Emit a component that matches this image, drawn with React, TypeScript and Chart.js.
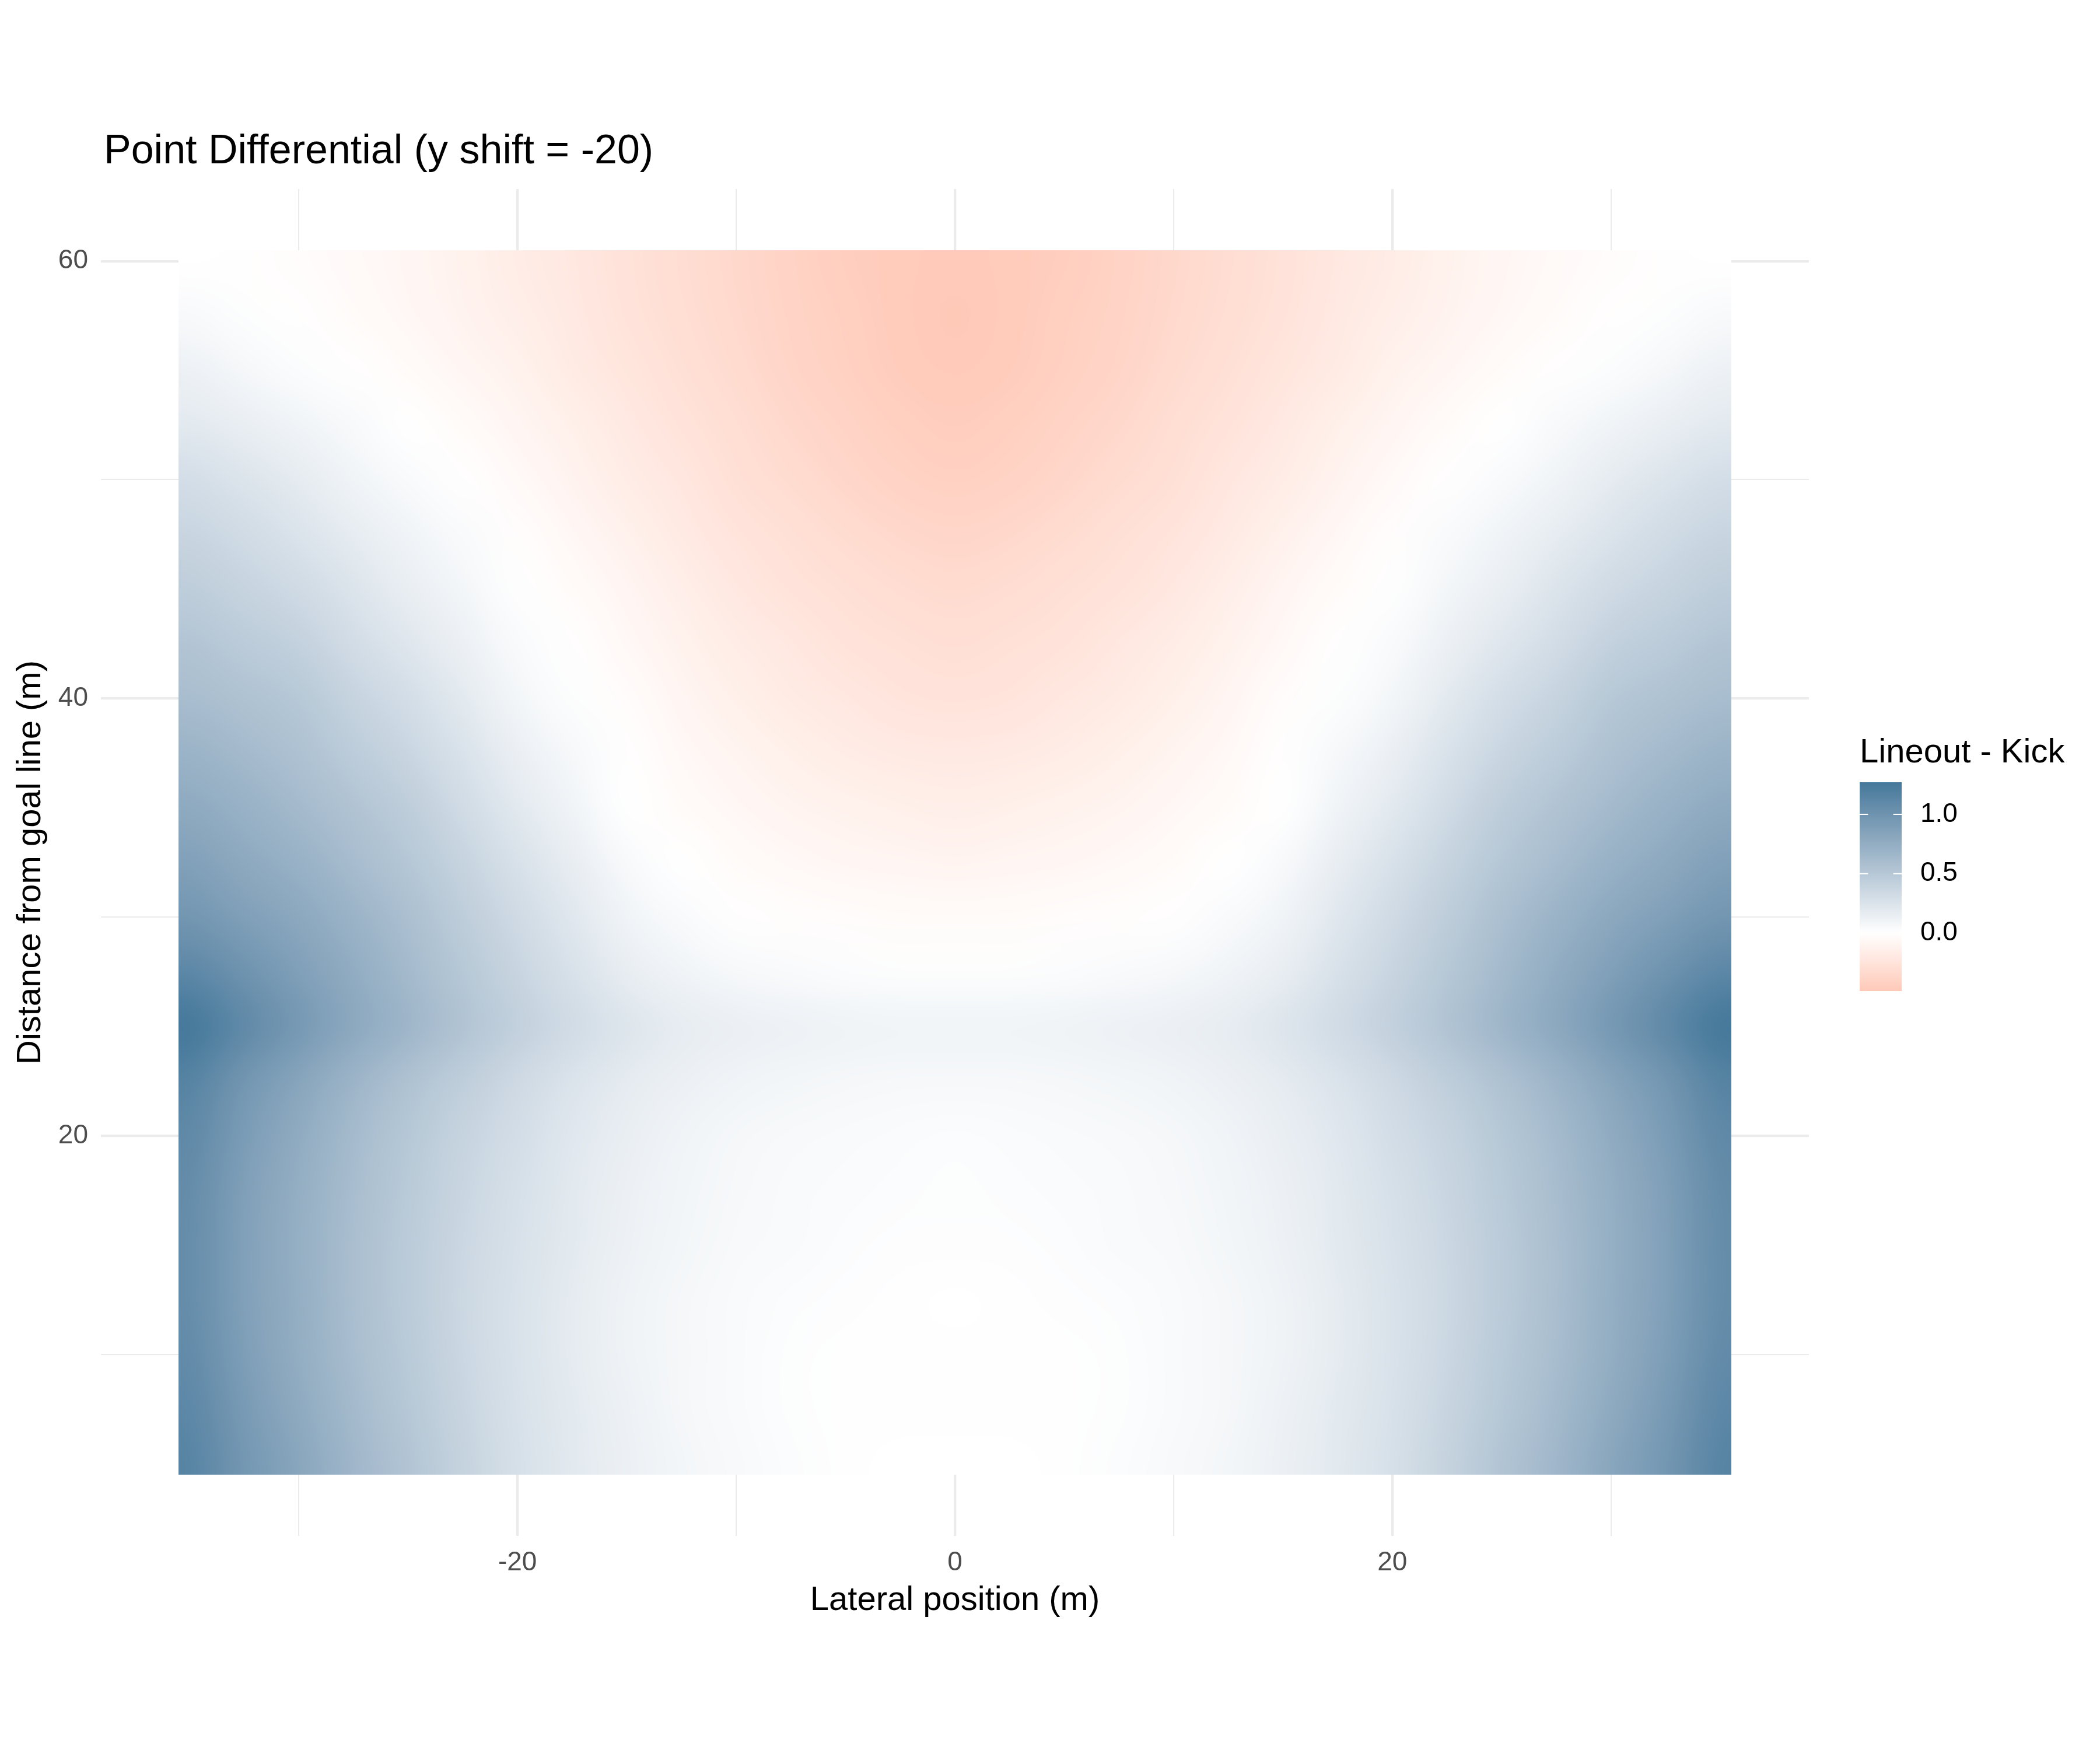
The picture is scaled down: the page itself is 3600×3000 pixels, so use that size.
import React, { useEffect, useRef } from "react";
import { Chart, registerables } from "chart.js";

Chart.register(...registerables);

// ---------------- data ----------------
const TITLE = "Point Differential (y shift = -20)";
const X_LABEL = "Lateral position (m)";
const Y_LABEL = "Distance from goal line (m)";
const LEGEND_TITLE = "Lineout - Kick";

// grid positions (m) at which the difference was read
const X_POSITIONS = [
  -35, -32.5, -30, -27.5, -25, -22.5, -20, -17.5, -15, -12.5, -10, -7.5, -5, -2.5, 0,
  2.5, 5, 7.5, 10, 12.5, 15, 17.5, 20, 22.5, 25, 27.5, 30, 32.5, 35,
];
const Y_POSITIONS = [
  60, 57.5, 55, 52.5, 50, 47.5, 45, 42.5, 40, 37.5, 35, 32.5, 30, 27.5, 25, 22.5, 20,
  17.5, 15, 12.5, 10, 7.5, 5,
];
// raster extent (data units)
const RASTER_X_LIMITS = [-35.5, 35.5];
const RASTER_Y_LIMITS = [4.5, 60.5];
// axis ranges (data units)
const X_AXIS_RANGE = [-39.05, 39.05];
const Y_AXIS_RANGE = [1.7, 63.3];
const LEGEND_BREAKS = [0, 0.5, 1.0];

// Lineout - Kick value, one row per Y_POSITIONS entry, one column per X_POSITIONS entry
const VALUES: number[][] = [
  [0.0, -0.01, -0.03, -0.05, -0.08, -0.12, -0.17, -0.21, -0.26, -0.31, -0.35, -0.40, -0.44, -0.47, -0.48, -0.47, -0.44, -0.40, -0.35, -0.31, -0.26, -0.21, -0.17, -0.12, -0.08, -0.05, -0.03, -0.01, 0.0],
  [0.05, 0.02, -0.01, -0.04, -0.07, -0.11, -0.15, -0.20, -0.25, -0.30, -0.34, -0.39, -0.43, -0.47, -0.49, -0.47, -0.43, -0.39, -0.34, -0.30, -0.25, -0.20, -0.15, -0.11, -0.07, -0.04, -0.01, 0.02, 0.05],
  [0.12, 0.07, 0.03, -0.01, -0.04, -0.08, -0.12, -0.18, -0.23, -0.28, -0.33, -0.38, -0.42, -0.46, -0.48, -0.46, -0.42, -0.38, -0.33, -0.28, -0.23, -0.18, -0.12, -0.08, -0.04, -0.01, 0.03, 0.07, 0.12],
  [0.20, 0.15, 0.10, 0.05, 0.00, -0.04, -0.09, -0.14, -0.20, -0.25, -0.30, -0.35, -0.39, -0.43, -0.45, -0.43, -0.39, -0.35, -0.30, -0.25, -0.20, -0.14, -0.09, -0.04, 0.00, 0.05, 0.10, 0.15, 0.20],
  [0.30, 0.24, 0.18, 0.10, 0.04, -0.01, -0.05, -0.11, -0.17, -0.22, -0.28, -0.32, -0.36, -0.40, -0.42, -0.40, -0.36, -0.32, -0.28, -0.22, -0.17, -0.11, -0.05, -0.01, 0.04, 0.10, 0.18, 0.24, 0.30],
  [0.38, 0.32, 0.25, 0.17, 0.10, 0.04, -0.02, -0.07, -0.13, -0.19, -0.24, -0.28, -0.32, -0.35, -0.37, -0.35, -0.32, -0.28, -0.24, -0.19, -0.13, -0.07, -0.02, 0.04, 0.10, 0.17, 0.25, 0.32, 0.38],
  [0.45, 0.39, 0.33, 0.24, 0.15, 0.08, 0.01, -0.04, -0.09, -0.15, -0.21, -0.25, -0.28, -0.31, -0.33, -0.31, -0.28, -0.25, -0.21, -0.15, -0.09, -0.04, 0.01, 0.08, 0.15, 0.24, 0.33, 0.39, 0.45],
  [0.53, 0.47, 0.41, 0.31, 0.22, 0.13, 0.04, -0.01, -0.06, -0.12, -0.17, -0.21, -0.25, -0.27, -0.29, -0.27, -0.25, -0.21, -0.17, -0.12, -0.06, -0.01, 0.04, 0.13, 0.22, 0.31, 0.41, 0.47, 0.53],
  [0.60, 0.55, 0.50, 0.39, 0.30, 0.19, 0.08, 0.02, -0.03, -0.09, -0.14, -0.18, -0.21, -0.24, -0.25, -0.24, -0.21, -0.18, -0.14, -0.09, -0.03, 0.02, 0.08, 0.19, 0.30, 0.39, 0.50, 0.55, 0.60],
  [0.69, 0.63, 0.56, 0.46, 0.37, 0.26, 0.14, 0.06, -0.01, -0.06, -0.10, -0.14, -0.17, -0.19, -0.20, -0.19, -0.17, -0.14, -0.10, -0.06, -0.01, 0.06, 0.14, 0.26, 0.37, 0.46, 0.56, 0.63, 0.69],
  [0.78, 0.71, 0.63, 0.54, 0.45, 0.32, 0.20, 0.10, 0.00, -0.04, -0.07, -0.10, -0.12, -0.14, -0.15, -0.14, -0.12, -0.10, -0.07, -0.04, 0.00, 0.10, 0.20, 0.32, 0.45, 0.54, 0.63, 0.71, 0.78],
  [0.87, 0.79, 0.71, 0.61, 0.51, 0.39, 0.27, 0.16, 0.05, 0.00, -0.04, -0.06, -0.08, -0.09, -0.10, -0.09, -0.08, -0.06, -0.04, 0.00, 0.05, 0.16, 0.27, 0.39, 0.51, 0.61, 0.71, 0.79, 0.87],
  [0.97, 0.88, 0.80, 0.69, 0.58, 0.45, 0.33, 0.21, 0.10, 0.04, -0.01, -0.02, -0.03, -0.04, -0.04, -0.04, -0.03, -0.02, -0.01, 0.04, 0.10, 0.21, 0.33, 0.45, 0.58, 0.69, 0.80, 0.88, 0.97],
  [1.12, 1.00, 0.88, 0.76, 0.63, 0.50, 0.38, 0.27, 0.16, 0.10, 0.06, 0.04, 0.03, 0.02, 0.02, 0.02, 0.03, 0.04, 0.06, 0.10, 0.16, 0.27, 0.38, 0.50, 0.63, 0.76, 0.88, 1.00, 1.12],
  [1.27, 1.10, 0.95, 0.80, 0.67, 0.54, 0.42, 0.32, 0.23, 0.17, 0.14, 0.12, 0.11, 0.10, 0.10, 0.10, 0.11, 0.12, 0.14, 0.17, 0.23, 0.32, 0.42, 0.54, 0.67, 0.80, 0.95, 1.10, 1.27],
  [1.16, 0.97, 0.83, 0.68, 0.55, 0.44, 0.34, 0.25, 0.18, 0.13, 0.10, 0.08, 0.07, 0.06, 0.06, 0.06, 0.07, 0.08, 0.10, 0.13, 0.18, 0.25, 0.34, 0.44, 0.55, 0.68, 0.83, 0.97, 1.16],
  [1.10, 0.91, 0.77, 0.62, 0.50, 0.39, 0.30, 0.21, 0.15, 0.10, 0.07, 0.055, 0.045, 0.035, 0.03, 0.035, 0.045, 0.055, 0.07, 0.10, 0.15, 0.21, 0.30, 0.39, 0.50, 0.62, 0.77, 0.91, 1.10],
  [1.07, 0.88, 0.74, 0.60, 0.48, 0.37, 0.28, 0.20, 0.13, 0.09, 0.06, 0.045, 0.035, 0.025, 0.02, 0.025, 0.035, 0.045, 0.06, 0.09, 0.13, 0.20, 0.28, 0.37, 0.48, 0.60, 0.74, 0.88, 1.07],
  [1.06, 0.87, 0.73, 0.59, 0.47, 0.36, 0.27, 0.19, 0.12, 0.08, 0.055, 0.04, 0.025, 0.015, 0.015, 0.015, 0.025, 0.04, 0.055, 0.08, 0.12, 0.19, 0.27, 0.36, 0.47, 0.59, 0.73, 0.87, 1.06],
  [1.06, 0.87, 0.74, 0.59, 0.47, 0.35, 0.26, 0.18, 0.11, 0.07, 0.045, 0.03, 0.015, 0.005, 0.0, 0.005, 0.015, 0.03, 0.045, 0.07, 0.11, 0.18, 0.26, 0.35, 0.47, 0.59, 0.74, 0.87, 1.06],
  [1.08, 0.89, 0.75, 0.60, 0.48, 0.36, 0.26, 0.18, 0.11, 0.07, 0.04, 0.02, 0.005, -0.005, -0.005, -0.005, 0.005, 0.02, 0.04, 0.07, 0.11, 0.18, 0.26, 0.36, 0.48, 0.60, 0.75, 0.89, 1.08],
  [1.12, 0.93, 0.78, 0.63, 0.50, 0.38, 0.27, 0.19, 0.12, 0.07, 0.04, 0.02, 0.005, -0.005, -0.005, -0.005, 0.005, 0.02, 0.04, 0.07, 0.12, 0.19, 0.27, 0.38, 0.50, 0.63, 0.78, 0.93, 1.12],
  [1.15, 0.96, 0.82, 0.66, 0.53, 0.40, 0.28, 0.20, 0.13, 0.08, 0.05, 0.025, 0.008, 0.0, 0.0, 0.0, 0.008, 0.025, 0.05, 0.08, 0.13, 0.20, 0.28, 0.40, 0.53, 0.66, 0.82, 0.96, 1.15],
];

// ---------------- styles ----------------
const FONT = '"Liberation Sans", Arial, Helvetica, sans-serif';
const HIGH_COLOR = "#44789A";
const MID_COLOR = "#FFFFFF";
const LOW_COLOR = "#FFC9B8";
const GRID_COLOR = "#EBEBEB";
const TICK_COLOR = "#4D4D4D";

// ---------------- colour helpers (CIELAB interpolation) ----------------
function hexToRgb(h: string): number[] {
  return [parseInt(h.slice(1, 3), 16), parseInt(h.slice(3, 5), 16), parseInt(h.slice(5, 7), 16)];
}
function toLin(c: number) {
  c /= 255;
  return c <= 0.04045 ? c / 12.92 : Math.pow((c + 0.055) / 1.055, 2.4);
}
function fromLin(c: number) {
  const v = c <= 0.0031308 ? 12.92 * c : 1.055 * Math.pow(c, 1 / 2.4) - 0.055;
  return Math.round(Math.max(0, Math.min(1, v)) * 255);
}
const XN = 0.95047, YN = 1.0, ZN = 1.08883;
function fLab(t: number) {
  return t > 0.008856 ? Math.cbrt(t) : 7.787 * t + 16 / 116;
}
function fInv(t: number) {
  return t > 0.206893 ? t * t * t : (t - 16 / 116) / 7.787;
}
function rgbToLab(rgb: number[]): number[] {
  const R = toLin(rgb[0]), G = toLin(rgb[1]), B = toLin(rgb[2]);
  const X = 0.4124 * R + 0.3576 * G + 0.1805 * B;
  const Y = 0.2126 * R + 0.7152 * G + 0.0722 * B;
  const Z = 0.0193 * R + 0.1192 * G + 0.9505 * B;
  const fx = fLab(X / XN), fy = fLab(Y / YN), fz = fLab(Z / ZN);
  return [116 * fy - 16, 500 * (fx - fy), 200 * (fy - fz)];
}
function labToRgb(lab: number[]): number[] {
  const fy = (lab[0] + 16) / 116;
  const fx = fy + lab[1] / 500;
  const fz = fy - lab[2] / 200;
  const X = XN * fInv(fx), Y = YN * fInv(fy), Z = ZN * fInv(fz);
  const R = 3.2406 * X - 1.5372 * Y - 0.4986 * Z;
  const G = -0.9689 * X + 1.8758 * Y + 0.0415 * Z;
  const B = 0.0557 * X - 0.204 * Y + 1.057 * Z;
  return [fromLin(R), fromLin(G), fromLin(B)];
}
const LAB_HIGH = rgbToLab(hexToRgb(HIGH_COLOR));
const LAB_MID = rgbToLab(hexToRgb(MID_COLOR));
const LAB_LOW = rgbToLab(hexToRgb(LOW_COLOR));

const ALL_VALUES = VALUES.reduce((a, r) => a.concat(r), [] as number[]);
const V_MIN = Math.min(...ALL_VALUES);
const V_MAX = Math.max(...ALL_VALUES);

function fillColor(v: number): number[] {
  let target = LAB_HIGH;
  let t = 0;
  if (v >= 0) {
    t = Math.min(1, v / V_MAX);
    target = LAB_HIGH;
  } else {
    t = Math.min(1, v / V_MIN);
    target = LAB_LOW;
  }
  return labToRgb([
    LAB_MID[0] + (target[0] - LAB_MID[0]) * t,
    LAB_MID[1] + (target[1] - LAB_MID[1]) * t,
    LAB_MID[2] + (target[2] - LAB_MID[2]) * t,
  ]);
}
const css = (c: number[]) => `rgb(${c[0]},${c[1]},${c[2]})`;

// ---------------- plugins ----------------
const heatmapPlugin = {
  id: "heatmap",
  beforeDatasetsDraw(chart: any) {
    const { ctx, scales } = chart;
    const xs = scales.x, ys = scales.y;
    const cols = X_POSITIONS.length, rows = Y_POSITIONS.length;
    const off = document.createElement("canvas");
    off.width = cols + 2;
    off.height = rows + 2;
    const octx = off.getContext("2d")!;
    const img = octx.createImageData(cols + 2, rows + 2);
    for (let r = 0; r < rows + 2; r++) {
      const rr = Math.min(rows - 1, Math.max(0, r - 1));
      for (let c = 0; c < cols + 2; c++) {
        const cc = Math.min(cols - 1, Math.max(0, c - 1));
        const col = fillColor(VALUES[rr][cc]);
        const i = (r * (cols + 2) + c) * 4;
        img.data[i] = col[0];
        img.data[i + 1] = col[1];
        img.data[i + 2] = col[2];
        img.data[i + 3] = 255;
      }
    }
    octx.putImageData(img, 0, 0);
    const dx = X_POSITIONS[1] - X_POSITIONS[0];
    const dy = Y_POSITIONS[0] - Y_POSITIONS[1];
    const left = xs.getPixelForValue(X_POSITIONS[0] - 1.5 * dx);
    const right = xs.getPixelForValue(X_POSITIONS[cols - 1] + 1.5 * dx);
    const top = ys.getPixelForValue(Y_POSITIONS[0] + 1.5 * dy);
    const bottom = ys.getPixelForValue(Y_POSITIONS[rows - 1] - 1.5 * dy);
    const cl = xs.getPixelForValue(RASTER_X_LIMITS[0]);
    const cr = xs.getPixelForValue(RASTER_X_LIMITS[1]);
    const ct = ys.getPixelForValue(RASTER_Y_LIMITS[1]);
    const cb = ys.getPixelForValue(RASTER_Y_LIMITS[0]);
    ctx.save();
    ctx.beginPath();
    ctx.rect(cl, ct, cr - cl, cb - ct);
    ctx.clip();
    ctx.imageSmoothingEnabled = true;
    (ctx as any).imageSmoothingQuality = "high";
    ctx.drawImage(off, left, top, right - left, bottom - top);
    ctx.restore();
  },
};

const decorPlugin = {
  id: "decor",
  afterDraw(chart: any) {
    const { ctx, chartArea } = chart;
    ctx.save();
    // title
    ctx.fillStyle = "#000000";
    ctx.font = `70px ${FONT}`;
    ctx.textAlign = "left";
    ctx.textBaseline = "alphabetic";
    ctx.fillText(TITLE, chartArea.left + 5, chartArea.top - 44);

    // colourbar legend
    const barLeft = chartArea.right + 87;
    const barW = 72;
    const barH = 358;
    const barTop = (chartArea.top + chartArea.bottom) / 2 - 137.5;
    const barBottom = barTop + barH;
    ctx.font = `58px ${FONT}`;
    ctx.fillText(LEGEND_TITLE, barLeft, barTop - 34);

    const grad = ctx.createLinearGradient(0, barTop, 0, barBottom);
    const N = 80;
    for (let i = 0; i <= N; i++) {
      const t = i / N;
      const v = V_MAX - t * (V_MAX - V_MIN);
      grad.addColorStop(t, css(fillColor(v)));
    }
    ctx.fillStyle = grad;
    ctx.fillRect(barLeft, barTop, barW, barH);

    const yFor = (v: number) => barBottom - ((v - V_MIN) / (V_MAX - V_MIN)) * barH;
    ctx.strokeStyle = "#FFFFFF";
    ctx.lineWidth = 2;
    ctx.font = `46px ${FONT}`;
    ctx.textBaseline = "middle";
    LEGEND_BREAKS.forEach((b) => {
      const yy = yFor(b);
      ctx.beginPath();
      ctx.moveTo(barLeft, yy);
      ctx.lineTo(barLeft + barW * 0.2, yy);
      ctx.moveTo(barLeft + barW * 0.8, yy);
      ctx.lineTo(barLeft + barW, yy);
      ctx.stroke();
      ctx.fillStyle = "#000000";
      ctx.fillText(b.toFixed(1), barLeft + barW + 32, yy);
    });
    ctx.restore();
  },
};

const isMajor = (v: number) => Math.abs(v % 20) < 1e-9;

export default function App() {
  const canvasRef = useRef<HTMLCanvasElement | null>(null);

  useEffect(() => {
    document.body.style.margin = "0";
    const canvas = canvasRef.current;
    if (!canvas) return;
    Chart.defaults.font.family = FONT;
    const chart = new Chart(canvas, {
      type: "scatter",
      data: { datasets: [{ data: [] }] },
      options: {
        animation: false,
        responsive: false,
        devicePixelRatio: 1,
        events: [],
        layout: { padding: { top: 324, right: 499, bottom: 0, left: 0 } },
        plugins: {
          legend: { display: false },
          title: { display: false },
          tooltip: { enabled: false },
        },
        scales: {
          x: {
            type: "linear",
            min: X_AXIS_RANGE[0],
            max: X_AXIS_RANGE[1],
            afterFit: (s: any) => {
              s.height = 367;
            },
            border: { display: false },
            grid: {
              color: GRID_COLOR,
              lineWidth: (c: any) => (c.tick && isMajor(c.tick.value) ? 4.3 : 2.1),
              drawTicks: false,
            },
            ticks: {
              stepSize: 10,
              includeBounds: false,
              autoSkip: false,
              maxRotation: 0,
              padding: 19,
              color: TICK_COLOR,
              font: { size: 46, family: FONT },
              callback: (v: any) => (isMajor(Number(v)) ? String(v) : ""),
            },
            title: {
              display: true,
              text: X_LABEL,
              color: "#000000",
              font: { size: 58, family: FONT },
              padding: { top: 0, bottom: 221 },
            },
          },
          y: {
            type: "linear",
            min: Y_AXIS_RANGE[0],
            max: Y_AXIS_RANGE[1],
            afterFit: (s: any) => {
              s.width = 173;
            },
            border: { display: false },
            grid: {
              color: GRID_COLOR,
              lineWidth: (c: any) => (c.tick && isMajor(c.tick.value) ? 4.3 : 2.1),
              drawTicks: false,
            },
            ticks: {
              stepSize: 10,
              includeBounds: false,
              autoSkip: false,
              padding: 22,
              color: TICK_COLOR,
              font: { size: 46, family: FONT },
              callback: (v: any) => (isMajor(Number(v)) ? String(v) : ""),
            },
            title: {
              display: true,
              text: Y_LABEL,
              color: "#000000",
              font: { size: 58, family: FONT },
              padding: { top: 18, bottom: 0 },
            },
          },
        },
      },
      plugins: [heatmapPlugin, decorPlugin],
    } as any);
    return () => chart.destroy();
  }, []);

  return (
    <div style={{ position: "absolute", left: 0, top: 0, width: 3600, height: 3000, background: "#FFFFFF" }}>
      <canvas ref={canvasRef} width={3600} height={3000} style={{ display: "block", width: 3600, height: 3000 }} />
    </div>
  );
}
